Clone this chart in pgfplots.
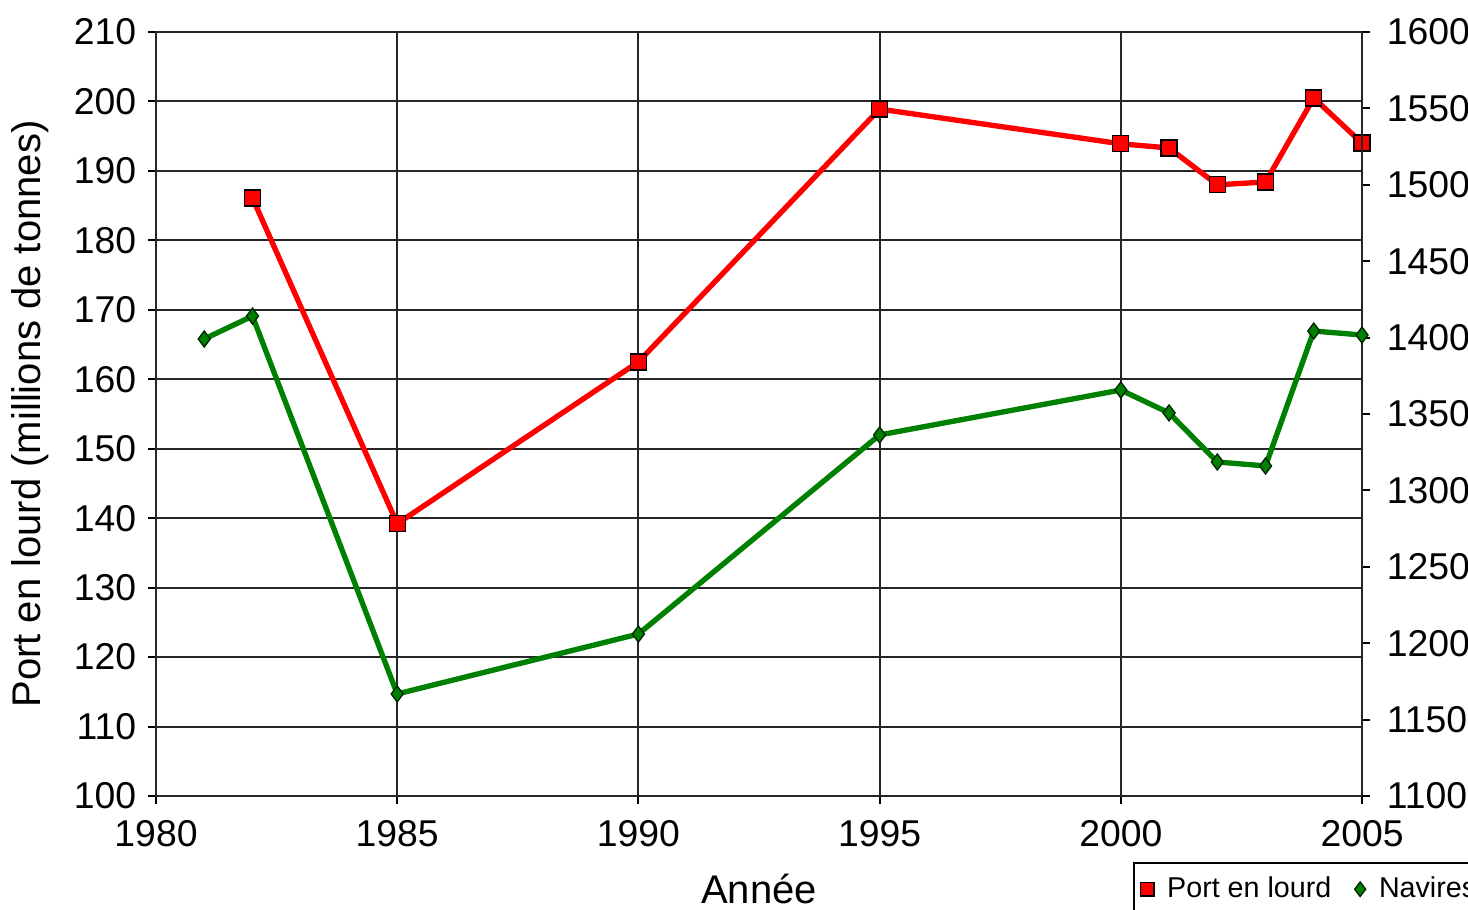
\documentclass[border=0pt]{standalone}
\usepackage{pgfplots}
\pgfplotsset{compat=1.18}
\usepackage{fontspec}
\setmainfont{Liberation Sans}
\definecolor{cred}{RGB}{255,0,0}
\definecolor{cgreen}{RGB}{0,128,0}
\begin{document}
\begin{tikzpicture}
\pgfplotsset{
  common/.style={
    scale only axis, width=361.8pt, height=229.2pt,
    xmin=1980, xmax=2005,
    /pgf/number format/assume math mode=true,
    /pgf/number format/set thousands separator={},
    scaled ticks=false,
    tick align=outside, major tick length=2.4pt,
    tick style={black, line width=0.6pt},
    tick label style={font=\fontsize{11.2}{13}\selectfont},
  }
}
\begin{axis}[common,
  ymin=100, ymax=210, ytick distance=10, xtick distance=5,
  xtick pos=bottom, ytick pos=left,
  grid=major, major grid style={black!85, line width=0.6pt},
  axis line style={black!85, line width=0.6pt},
  xticklabel style={yshift=-1.5pt},
  xlabel={Année}, ylabel={Port en lourd (millions de tonnes)},
  label style={font=\fontsize{12}{14}\selectfont},
  xlabel style={at={(axis description cs:0.5,-0.1217)}, anchor=center},
  ylabel style={at={(axis description cs:-0.1045,0.5)}, anchor=center},
]
\addplot[cred, line width=1.6pt, mark=square*, mark size=2.4pt,
  mark options={fill=cred, draw=black, line width=0.4pt}]
  coordinates {(1982,186.1) (1985,139.2) (1990,162.5) (1995,198.9) (2000,193.9)
    (2001,193.3) (2002,188.0) (2003,188.4) (2004,200.5) (2005,194.0)};
\end{axis}
\begin{axis}[common,
  ymin=11000, ymax=16000, ytick distance=500,
  axis y line*=right, axis x line=none,
  axis line style={black!85, line width=0.6pt},
  yticklabel style={xshift=1.5pt},
  legend columns=2,
  legend style={at={(axis description cs:0.810,-0.0864)}, anchor=north west,
    font=\fontsize{8.6}{10}\selectfont, draw=black, line width=0.6pt,
    inner xsep=2pt, inner ysep=2pt,
    /tikz/every odd column/.append style={column sep=2pt},
    /tikz/every even column/.append style={column sep=5pt}},
  legend cell align=left,
]
\addlegendimage{only marks, mark=square*, mark size=2pt, mark options={fill=cred, draw=black, line width=0.4pt}}
\addlegendentry{Port en lourd}
\addplot[cgreen, line width=1.6pt, mark=diamond*, mark size=2.4pt,
  mark options={fill=cgreen, draw=black!70!cgreen, line width=0.4pt}, forget plot]
  coordinates {(1981,13991) (1982,14141) (1985,11668) (1990,12060) (1995,13363)
    (2000,13657) (2001,13507) (2002,13186) (2003,13160) (2004,14043) (2005,14017)};
\addlegendimage{only marks, mark=diamond*, mark size=2.2pt, mark options={fill=cgreen, draw=black!70!cgreen, line width=0.4pt}}
\addlegendentry{Navires}
\coordinate (SW) at (rel axis cs:0,0);
\coordinate (NE) at (rel axis cs:1,1);
\end{axis}
\pgfresetboundingbox
\path[use as bounding box] ([shift={(-46.8pt,-33.9pt)}]SW) rectangle ([shift={(31.8pt,9.6pt)}]NE);
\end{tikzpicture}
\end{document}
